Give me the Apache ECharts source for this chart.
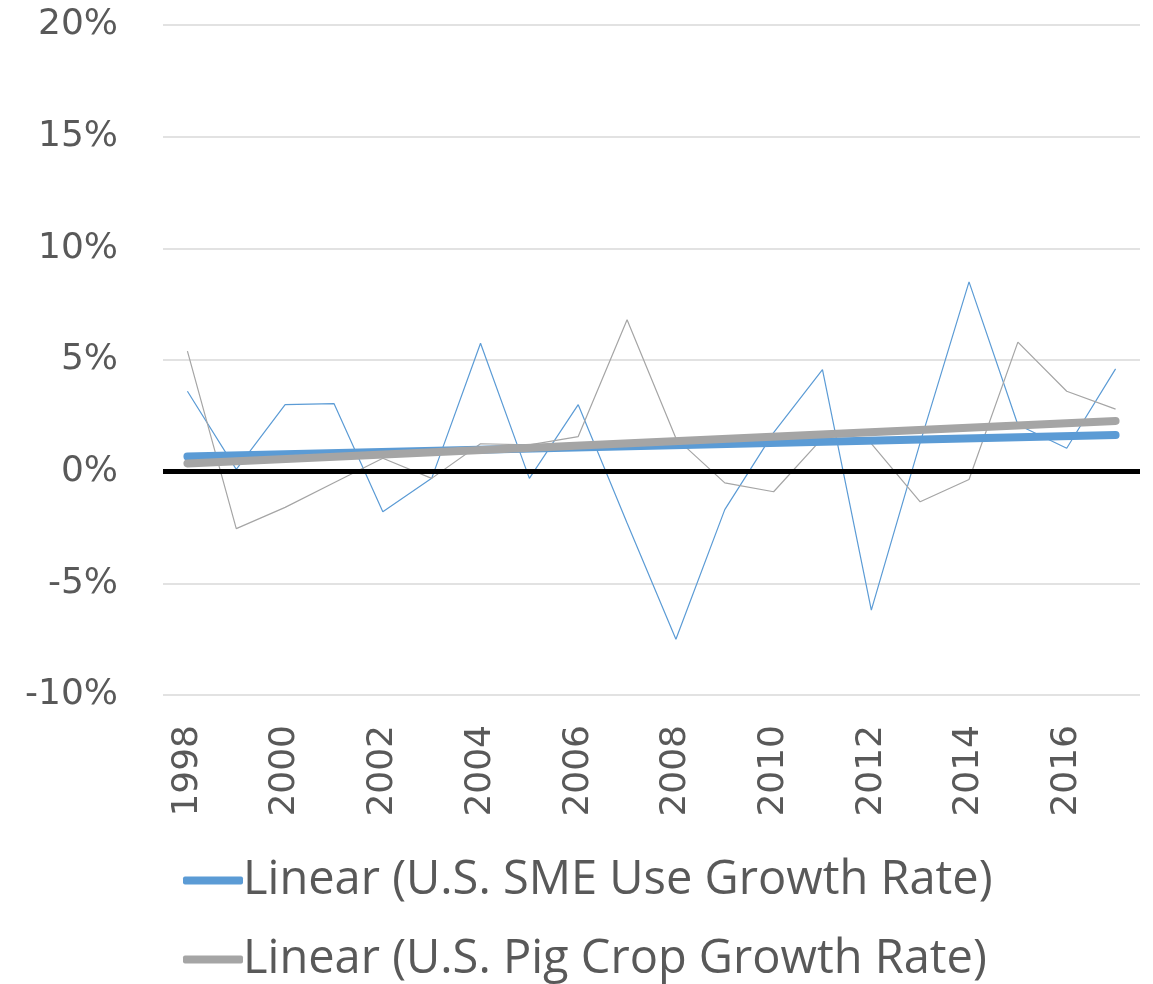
<!DOCTYPE html>
<html>
<head>
<meta charset="utf-8">
<script src="https://cdn.jsdelivr.net/npm/echarts@6/dist/echarts.min.js"></script>
<style>
  html, body { margin: 0; padding: 0; background: #fff; }
  #chart { width: 1153px; height: 984px; }
</style>
</head>
<body>
<div id="chart"></div>
<script>
// years on the x axis
const years = ['1998', '1999', '2000', '2001', '2002', '2003', '2004', '2005', '2006', '2007',
  '2008', '2009', '2010', '2011', '2012', '2013', '2014', '2015', '2016', '2017'];

// growth rates in %
const smeGrowth = [3.6, 0.1, 3.0, 3.05, -1.8, -0.3, 5.75, -0.3, 3.0, -2.3,
  -7.5, -1.7, 1.75, 4.57, -6.2, 1.3, 8.5, 2.1, 1.05, 4.6];
const pigGrowth = [5.4, -2.55, -1.6, -0.5, 0.6, -0.3, 1.25, 1.2, 1.57, 6.8,
  1.5, -0.5, -0.9, 1.5, 1.26, -1.35, -0.35, 5.8, 3.6, 2.8];

// trendline end points (1998 and 2017)
const smeTrend = [0.68, 1.64];
const pigTrend = [0.37, 2.27];

const legendNames = ['Linear (U.S. SME Use Growth Rate)', 'Linear (U.S. Pig Crop Growth Rate)'];
const colors = { blue: '#5B9BD5', gray: '#A5A5A5', text: '#595959' };

const myChart = echarts.init(document.getElementById('chart'));

const trendData = (ends) => [[years[0], ends[0]], [years[years.length - 1], ends[1]]];

const option = {
  animation: false,
  backgroundColor: '#fff',
  grid: { left: 163, right: 13, top: 25, bottom: 289 },
  legend: {
    orient: 'vertical',
    left: 183,
    top: 857,
    padding: 0,
    itemWidth: 60,
    itemHeight: 8,
    itemGap: 32,
    icon: 'roundRect',
    textStyle: { fontFamily: 'Open Sans', fontSize: 47, color: colors.text, padding: [0, 0, 0, -5] },
    data: legendNames
  },
  xAxis: {
    type: 'category',
    data: years,
    boundaryGap: true,
    axisLine: { show: false },
    axisTick: { show: false },
    axisLabel: {
      interval: 1,
      rotate: 90,
      margin: 30,
      fontFamily: 'DejaVu Sans',
      fontSize: 36,
      color: colors.text
    }
  },
  yAxis: {
    type: 'value',
    min: -10,
    max: 20,
    interval: 5,
    axisLine: { show: false },
    axisTick: { show: false },
    axisLabel: {
      formatter: '{value}%',
      margin: 45,
      fontFamily: 'DejaVu Sans',
      fontSize: 36,
      color: colors.text
    },
    splitLine: { lineStyle: { color: '#D9D9D9', width: 1.5 } }
  },
  series: [
    {
      name: 'U.S. SME Use Growth Rate',
      type: 'line',
      data: smeGrowth,
      symbol: 'none',
      lineStyle: { color: colors.blue, width: 1.2 },
      markLine: {
        silent: true,
        symbol: 'none',
        label: { show: false },
        lineStyle: { color: '#000', width: 5, type: 'solid' },
        data: [{ yAxis: 0 }]
      }
    },
    {
      name: 'U.S. Pig Crop Growth Rate',
      type: 'line',
      data: pigGrowth,
      symbol: 'none',
      lineStyle: { color: colors.gray, width: 1.2 }
    },
    {
      name: legendNames[0],
      type: 'line',
      data: trendData(smeTrend),
      symbol: 'none',
      itemStyle: { color: colors.blue },
      lineStyle: { color: colors.blue, width: 8, cap: 'round' },
      z: 3
    },
    {
      name: legendNames[1],
      type: 'line',
      data: trendData(pigTrend),
      symbol: 'none',
      itemStyle: { color: colors.gray },
      lineStyle: { color: colors.gray, width: 8, cap: 'round' },
      z: 4
    }
  ]
};

myChart.setOption(option);
</script>
</body>
</html>
